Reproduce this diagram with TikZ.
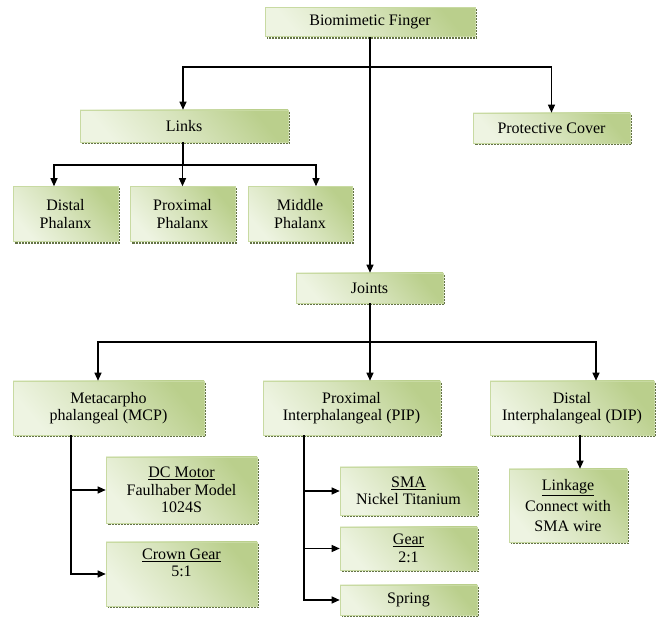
\documentclass[tikz,border=0pt]{standalone}
\usepackage{fontspec}
\setmainfont{Liberation Serif}
\usetikzlibrary{arrows.meta}
\definecolor{boxlight}{RGB}{238,244,226}
\definecolor{boxdark}{RGB}{186,207,140}
\definecolor{boxedge}{RGB}{200,218,162}
\definecolor{shadowc}{RGB}{100,115,70}
\tikzset{
  blk/.style={draw=boxedge, line width=0.6pt, bottom color=boxlight, top color=boxdark,
    middle color=boxdark!45!boxlight,
    shading angle=-50, inner sep=0pt, align=center,
    font=\fontsize{16}{17.5}\selectfont},
  arr/.style={line width=1.2pt, -{Triangle[length=8pt,width=7pt]}},
  ln/.style={line width=1.2pt},
  shd/.style={draw=shadowc, line width=1.6pt, dash pattern=on 2pt off 1pt}
}
\begin{document}
\begin{tikzpicture}[x=1pt,y=-1pt]
\useasboundingbox (0,0) rectangle (665,617);
% boxes
\node[blk, minimum width=210, minimum height=29] (bf) at (370,22) {Biomimetic Finger};
\node[blk, minimum width=208, minimum height=32] (links) at (184,126) {Links};
\node[blk, minimum width=157, minimum height=30] (pc) at (551.5,128) {Protective Cover};
\node[blk, minimum width=105, minimum height=55] (distal) at (65.5,214) {Distal\\Phalanx};
\node[blk, minimum width=105, minimum height=55] (proximal) at (182.5,214) {Proximal\\Phalanx};
\node[blk, minimum width=104, minimum height=55] (middle) at (300,214) {Middle\\Phalanx};
\node[blk, minimum width=147, minimum height=30] (joints) at (369.5,288) {Joints};
\node[blk, minimum width=191, minimum height=54] (mcp) at (108.5,408) {Metacarpho\\phalangeal (MCP)};
\node[blk, minimum width=177, minimum height=54] (pip) at (351.5,408) {Proximal\\Interphalangeal (PIP)};
\node[blk, minimum width=164, minimum height=54] (dip) at (572,408) {Distal\\Interphalangeal (DIP)};
\node[blk, minimum width=151, minimum height=66] (dcm) at (181.5,490) {\underline{DC Motor}\\Faulhaber Model\\1024S};
\node[blk, minimum width=151, minimum height=64] (crown) at (181.5,574) {\underline{Crown Gear}\\5:1\\\strut};
\node[blk, minimum width=137, minimum height=48] (sma) at (408.5,491) {\underline{SMA}\\Nickel Titanium};
\node[blk, minimum width=137, minimum height=43] (gear) at (408.5,548.5) {\underline{Gear}\\2:1};
\node[blk, minimum width=137, minimum height=30] (spring) at (408.5,600) {Spring};
\node[blk, minimum width=118, minimum height=73] (linkage) at (568,505.5) {\underline{Linkage}\\[4pt]Connect with\\[2pt]SMA wire};
% shadows
\foreach \n in {bf,links,pc,distal,proximal,middle,joints,mcp,pip,dip,dcm,crown,sma,gear,spring,linkage}{
  \draw[shd] ([xshift=1.2pt,yshift=-2pt]\n.north east) -- ([xshift=1.2pt,yshift=-1.2pt]\n.south east) -- ([xshift=2pt,yshift=-1.2pt]\n.south west);
}
% connectors
\coordinate (j1) at (370,67);
\draw[arr] (bf.south) -- (bf.south |- joints.north);
\draw[arr] (j1) -| ([xshift=-1pt]links.north);
\draw[arr] (j1) -| (pc.north);
\coordinate (j2) at (183,165);
\draw[ln] (links.south -| j2) -- (j2);
\draw[arr] (j2) -| ([xshift=-11.5pt]distal.north);
\draw[arr] (j2) -| (proximal.north);
\draw[arr] (j2) -| ([xshift=16pt]middle.north);
\coordinate (j3) at (370,342);
\draw[ln] (joints.south -| j3) -- (j3);
\draw[arr] (j3) -| ([xshift=-10.5pt]mcp.north);
\draw[arr] (j3) -- (j3 |- pip.north);
\draw[arr] (j3) -| ([xshift=24pt]dip.north);
\draw[arr] ([xshift=-37.5pt]mcp.south) |- (dcm.west);
\draw[arr] ([xshift=-37.5pt]mcp.south) |- (crown.west);
\draw[arr] ([xshift=-47.5pt]pip.south) |- (sma.west);
\draw[arr] ([xshift=-47.5pt]pip.south) |- (gear.west);
\draw[arr] ([xshift=-47.5pt]pip.south) |- (spring.west);
\draw[arr] ([xshift=8pt]dip.south) -- ([xshift=8pt]dip.south |- linkage.north);
\end{tikzpicture}
\end{document}
